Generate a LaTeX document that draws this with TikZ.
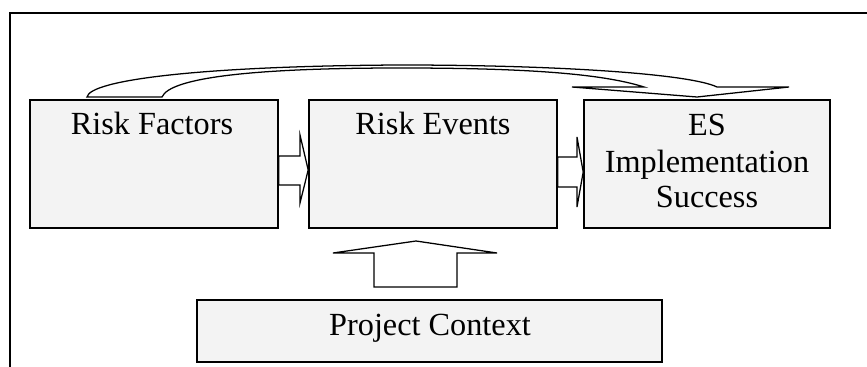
\documentclass[tikz,border=0pt]{standalone}
\usepackage{fontspec}
\setmainfont{Liberation Serif}
\definecolor{boxgray}{HTML}{F3F3F3}
\begin{document}
\begin{tikzpicture}[x=0.75pt,y=-0.75pt,
  box/.style={draw=black,line width=1.2pt,fill=boxgray,inner sep=0pt},
  lbl/.style={font=\fontsize{24.2}{27}\selectfont,anchor=base,inner sep=0pt},
  blockarrow/.style={draw=black,line width=0.95pt,fill=white,line join=miter}]
\useasboundingbox (0,0) rectangle (867,367);

% open frame: left and top edges only
\draw[line width=1.2pt] (10,367) -- (10,13) -- (867,13);

% the four boxes
\node[box,minimum width=186pt,minimum height=96pt] (rf) at (154,164) {};
\node[box,minimum width=186pt,minimum height=96pt] (re) at (433,164) {};
\node[box,minimum width=184.5pt,minimum height=96pt] (es) at (707,164) {};
\node[box,minimum width=348.75pt,minimum height=46.5pt] (pc) at (429.5,331) {};

% box titles
\node[lbl] (rft) at (152,135) {Risk Factors};
\node[lbl] (ret) at (433,135) {Risk Events};
\node[lbl] (esa) at (707,136) {ES};
\node[lbl] (esb) at (707,172) {Implementation};
\node[lbl] (esc) at (707,208) {Success};
\node[lbl] (pct) at (430,335) {Project Context};

% block arrow: Risk Factors -> Risk Events
\draw[blockarrow] (rf.east |- 0,156) -- (300,156) -- (300,135) -- (re.west |- 0,170)
  -- (300,203) -- (300,185) -- (rf.east |- 0,185) -- cycle;

% block arrow: Risk Events -> ES Implementation Success
\draw[blockarrow] (re.east |- 0,157) -- (577,157) -- (577,137) -- (es.west |- 0,172)
  -- (577,207) -- (577,187) -- (re.east |- 0,187) -- cycle;

% block arrow: Project Context -> Risk Events
\draw[blockarrow] (374,287) -- (374,253) -- (333,253) -- (416,241)
  -- (497,253) -- (457,253) -- (457,287) -- cycle;

% curved block arrow: Risk Factors -> ES Implementation Success
\draw[blockarrow] (87,97) .. controls (90,80) and (200,66) .. (400,65)
  .. controls (560,65) and (690,74) .. (717,87)
  -- (789,87) -- (697,97) -- (572,87) -- (644,87)
  .. controls (600,73) and (520,68) .. (400,68)
  .. controls (250,68) and (170,78) .. (162,97) -- cycle;
\end{tikzpicture}
\end{document}
